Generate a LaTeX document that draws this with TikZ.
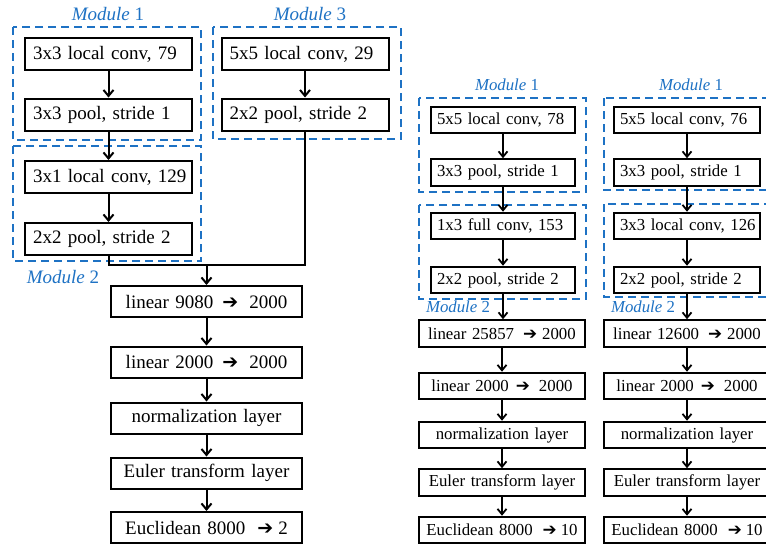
\documentclass[tikz,border=0pt]{standalone}
\usepackage{fontspec}
\setmainfont{Liberation Serif}
\newfontfamily\symfont{DejaVu Sans}
\usetikzlibrary{arrows.meta}
\definecolor{modblue}{RGB}{30,114,196}
\newcommand{\myarr}[2]{\hspace*{#1}{\symfont\char"2794}\hspace*{#2}}
\begin{document}
\begin{tikzpicture}[x=1pt,y=-1pt,
  fL/.style={font=\fontsize{19}{22}\selectfont},
  fR/.style={font=\fontsize{16.8}{20}\selectfont},
  boxbase/.style={draw, line width=2pt, inner ysep=0pt, fill=white},
  upL/.style={boxbase, fL, minimum height=32pt, text width=159pt, inner xsep=4pt, align=left},
  loL/.style={boxbase, fL, minimum height=31pt, text width=181pt, inner xsep=5pt, align=center},
  upR/.style={boxbase, fR, minimum height=26.5pt, text width=138pt, inner xsep=3pt, align=left},
  loR/.style={boxbase, fR, minimum height=26.5pt, text width=158pt, inner xsep=4pt, align=center},
  modbox/.style={draw=modblue, line width=2pt, dash pattern=on 8pt off 5pt},
  modlabL/.style={text=modblue, fL},
  modlabR/.style={text=modblue, fR},
  conn/.style={line width=2pt, -{Straight Barb[length=6pt,width=10pt]}},
  connR/.style={line width=1.8pt, -{Straight Barb[length=5.5pt,width=9pt]}},
  plain/.style={line width=2pt}
]
\useasboundingbox (0,0) rectangle (766,544);
\clip (0,0) rectangle (766,544);
\fill[white] (0,0) rectangle (766,544);

% ---------------- left diagram ----------------
\draw[modbox] (13,27) rectangle (201,140);
\draw[modbox] (13,146) rectangle (201,261);
\draw[modbox] (213,27) rectangle (401,139);
\node[modlabL] (lm1) at (108,14) {\itshape Module \upshape 1};
\node[modlabL] (lm3) at (310,14) {\itshape Module \upshape 3};
\node[modlabL] (lm2) at (63,277) {\itshape Module \upshape 2};

\node[upL] (L1a) at (108.5,54) {\hspace*{4pt}3x3 local conv, 79};
\node[upL] (L1b) at (108.5,114.5) {\hspace*{4pt}3x3 pool, stride 1};
\node[upL] (L2a) at (108.5,177) {\hspace*{4pt}3x1 local conv, 129};
\node[upL] (L2b) at (108.5,239) {\hspace*{4pt}2x2 pool, stride 2};
\node[upL] (M3a) at (305,54) {\hspace*{4pt}5x5 local conv, 29};
\node[upL] (M3b) at (305,114.5) {\hspace*{4pt}2x2 pool, stride 2};

\node[loL] (LA) at (206.5,301.5) {linear 9080\myarr{9pt}{11pt}2000};
\node[loL] (LB) at (206.5,362) {linear 2000\myarr{9pt}{11pt}2000};
\node[loL] (LC) at (206.5,418) {normalization layer};
\node[loL] (LD) at (206.5,473) {Euler transform layer};
\node[loL] (LE) at (206.5,527.5) {Euclidean 8000\myarr{12pt}{5pt}2};

\coordinate (lj) at (207,265);
\draw[conn] (L1a) -- (L1b);
\draw[conn] (L1b) -- (L2a);
\draw[conn] (L2a) -- (L2b);
\draw[conn] (M3a) -- (M3b);
\draw[plain] (L2b.south) -- (L2b.south |- lj) -- (M3b.south |- lj) -- (M3b.south);
\draw[conn] (LA.north |- lj) -- (LA.north);
\draw[conn] (LA) -- (LB);
\draw[conn] (LB) -- (LC);
\draw[conn] (LC) -- (LD);
\draw[conn] (LD) -- (LE);

% ---------------- middle diagram ----------------
\draw[modbox] (419,98) rectangle (586,192);
\draw[modbox] (419,205) rectangle (586,299);
\node[modlabR] (mm1) at (507,85) {\itshape Module \upshape 1};
\node[modlabR] (mm2) at (458,307) {\itshape Module \upshape 2};

\node[upR] (Ma) at (503,120) {\hspace*{3pt}5x5 local conv, 78};
\node[upR] (Mb) at (503,172.5) {\hspace*{3pt}3x3 pool, stride 1};
\node[upR] (Mc) at (503,226) {\hspace*{3pt}1x3 full conv, 153};
\node[upR] (Md) at (503,280) {\hspace*{3pt}2x2 pool, stride 2};

\node[loR] (Na) at (502,333.5) {linear 25857\myarr{9pt}{5pt}2000};
\node[loR] (Nb) at (502,386) {linear 2000\myarr{7pt}{9pt}2000};
\node[loR] (Nc) at (502,435) {normalization layer};
\node[loR] (Nd) at (502,482.5) {Euler transform layer};
\node[loR] (Ne) at (502,530) {Euclidean 8000\myarr{10pt}{4pt}10};

\draw[connR] (Ma) -- (Mb);
\draw[connR] (Mb) -- (Mc);
\draw[connR] (Mc) -- (Md);
\draw[connR] (Md.south) -- (Md.south |- Na.north);
\draw[connR] (Na) -- (Nb);
\draw[connR] (Nb) -- (Nc);
\draw[connR] (Nc) -- (Nd);
\draw[connR] (Nd) -- (Ne);

% ---------------- right diagram ----------------
\draw[modbox] (604,98) rectangle (790,190);
\draw[modbox] (604,204) rectangle (790,297);
\node[modlabR] (rm1) at (691,85) {\itshape Module \upshape 1};
\node[modlabR] (rm2) at (643,307) {\itshape Module \upshape 2};

\node[upR, text width=140pt] (Ra) at (687,120) {\hspace*{3pt}5x5 local conv, 76};
\node[upR, text width=140pt] (Rb) at (687,172.5) {\hspace*{3pt}3x3 pool, stride 1};
\node[upR, text width=140pt] (Rc) at (687,226) {\hspace*{3pt}3x3 local conv, 126};
\node[upR, text width=140pt] (Rd) at (687,280) {\hspace*{3pt}2x2 pool, stride 2};

\node[loR] (Sa) at (687,333.5) {linear 12600\myarr{9pt}{5pt}2000};
\node[loR] (Sb) at (687,386) {linear 2000\myarr{7pt}{9pt}2000};
\node[loR] (Sc) at (687,435) {normalization layer};
\node[loR] (Sd) at (687,482.5) {Euler transform layer};
\node[loR] (Se) at (687,530) {Euclidean 8000\myarr{10pt}{4pt}10};

\draw[connR] (Ra) -- (Rb);
\draw[connR] (Rb) -- (Rc);
\draw[connR] (Rc) -- (Rd);
\draw[connR] (Rd.south) -- (Rd.south |- Sa.north);
\draw[connR] (Sa) -- (Sb);
\draw[connR] (Sb) -- (Sc);
\draw[connR] (Sc) -- (Sd);
\draw[connR] (Sd) -- (Se);
\end{tikzpicture}
\end{document}
